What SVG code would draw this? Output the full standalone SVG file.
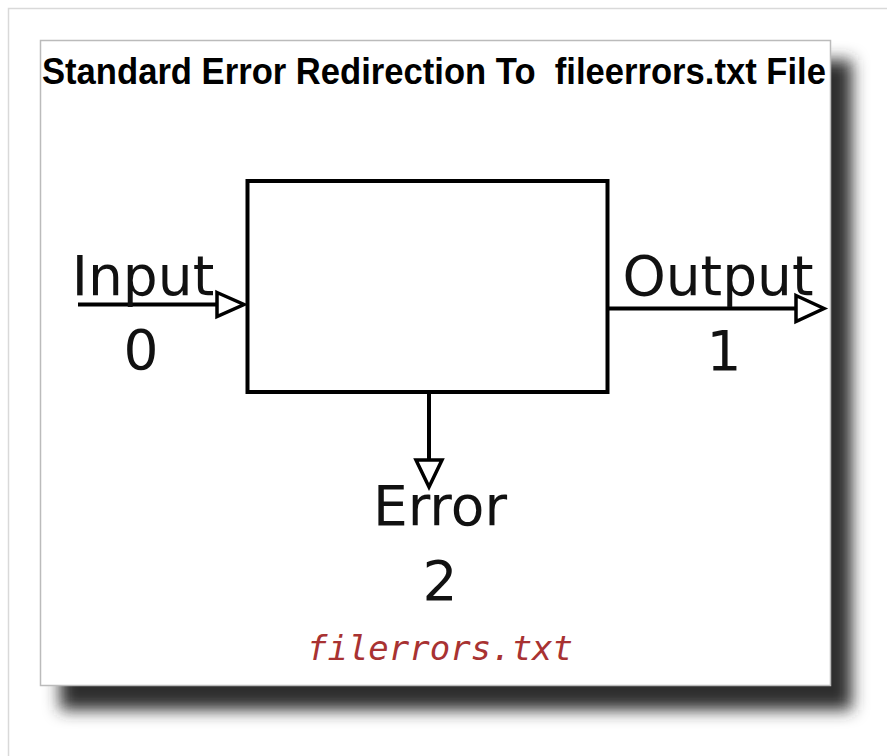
<svg xmlns="http://www.w3.org/2000/svg" width="887" height="756" viewBox="0 0 887 756">
  <style>
    .lbl { font-family: "DejaVu Sans", sans-serif; font-size: 55px; fill: #111; }
    .wire { stroke: #000; stroke-width: 4; fill: none; }
    .head { stroke: #000; stroke-width: 3.5; fill: #fff; stroke-linejoin: miter; }
  </style>
  <defs>
    <filter id="drop" x="-15%" y="-15%" width="140%" height="140%">
      <feGaussianBlur stdDeviation="8"/>
    </filter>
  </defs>

  <!-- page background and outer frame -->
  <rect x="0" y="0" width="887" height="756" fill="#fff"/>
  <rect x="8.5" y="8.5" width="900" height="800" fill="none" stroke="#d9d9d9" stroke-width="1.5"/>

  <!-- card with drop shadow -->
  <rect x="60" y="60" width="792" height="650" fill="#2e2e2e" filter="url(#drop)"/>
  <rect x="40.5" y="40.5" width="790" height="645" fill="#fff" stroke="#bbb" stroke-width="1.5"/>

  <g id="title">
    <text x="42" y="84" font-family="Liberation Sans, Arial, sans-serif" font-weight="bold" font-size="36" textLength="784" lengthAdjust="spacingAndGlyphs" fill="#000" xml:space="preserve">Standard Error Redirection To  fileerrors.txt File</text>
  </g>

  <g id="process">
    <rect x="247.5" y="181" width="360" height="211" fill="#fff" stroke="#000" stroke-width="4"/>
  </g>

  <g id="connectors">
    <!-- stdin -->
    <line class="wire" x1="78" y1="304.5" x2="218" y2="304.5"/>
    <polygon class="head" points="217,292.5 244,304.5 217,316.5"/>
    <!-- stdout -->
    <line class="wire" x1="607" y1="308.5" x2="796" y2="308.5"/>
    <polygon class="head" points="796,295.5 824,308.5 796,321.5"/>
    <!-- stderr -->
    <line class="wire" x1="429" y1="392" x2="429" y2="461"/>
    <polygon class="head" points="416,460 442,460 429,487"/>
  </g>

  <g id="input">
    <text class="lbl" x="143" y="295" text-anchor="middle">Input</text>
    <text class="lbl" x="141" y="369" text-anchor="middle">0</text>
  </g>

  <g id="output">
    <text class="lbl" x="718" y="295" text-anchor="middle">Output</text>
    <text class="lbl" x="724" y="370" text-anchor="middle">1</text>
  </g>

  <g id="error">
    <text class="lbl" x="440" y="525" text-anchor="middle">Error</text>
    <text class="lbl" x="440" y="600" text-anchor="middle">2</text>
    <text x="440" y="660" text-anchor="middle" font-family="DejaVu Sans Mono, monospace" font-style="italic" font-size="34" fill="#a83232">filerrors.txt</text>
  </g>
</svg>
